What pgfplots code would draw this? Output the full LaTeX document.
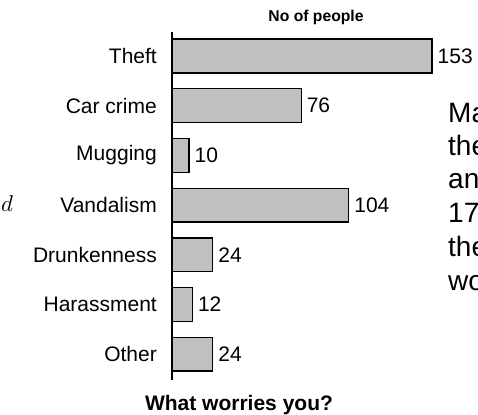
\documentclass[border=0pt]{standalone}
\usepackage{graphicx}
\usepackage{pgfplots}
\pgfplotsset{compat=1.18}
\usepackage{fontspec}
\setmainfont{Liberation Sans}
\begin{document}
\begin{tikzpicture}[x=1bp,y=1bp]
\useasboundingbox (0,0) rectangle (478,414);
\clip (0,0) rectangle (478,414);
\begin{axis}[
  at={(172bp,34bp)}, anchor=south west,
  scale only axis, width=260bp, height=348bp,
  xbar, bar width=0.68,
  xmin=0, xmax=153,
  ymin=-0.483, ymax=6.52, y dir=reverse,
  axis x line=none,
  axis y line*=left,
  y axis line style={line width=1.5bp, -},
  ytick={0,1,2,3,4,5,6},
  yticklabels={Theft,Car crime,Mugging,Vandalism,Drunkenness,Harassment,Other},
  major tick length=0pt,
  yticklabel style={font=\fontsize{21bp}{24bp}\selectfont, inner sep=0pt, xshift=-15bp, anchor=east},
  /pgf/number format/assume math mode=true,
  nodes near coords,
  nodes near coords style={font=\fontsize{21bp}{24bp}\selectfont, inner sep=0pt, anchor=west, xshift=5bp},
  clip=false,
]
\addplot[fill={rgb,255:red,192;green,192;blue,192}, draw=black, line width=1.3bp] coordinates {
  (153,0) (76,1) (10,2) (104,3) (24,4) (12,5) (24,6)
};
\end{axis}
\node[anchor=base, font=\bfseries\fontsize{15.7bp}{18bp}\selectfont] at (316,392) {No of people};
\node[anchor=base, font=\bfseries\fontsize{21bp}{24bp}\selectfont] at (239,3.5) {What worries you?};
\begin{scope}[every node/.style={anchor=base west, inner sep=0pt, font=\fontsize{28bp}{32bp}\selectfont}]
\node at (448,292) {Ma};
\node at (448,259) {the};
\node at (448,226) {an};
\node at (448,192) {17};
\node at (448,158) {the};
\node at (448,124) {wo};
\end{scope}
\node[anchor=base west, inner sep=0pt] at (1,203) {\scalebox{2.3}{$d$}};
\end{tikzpicture}
\end{document}
